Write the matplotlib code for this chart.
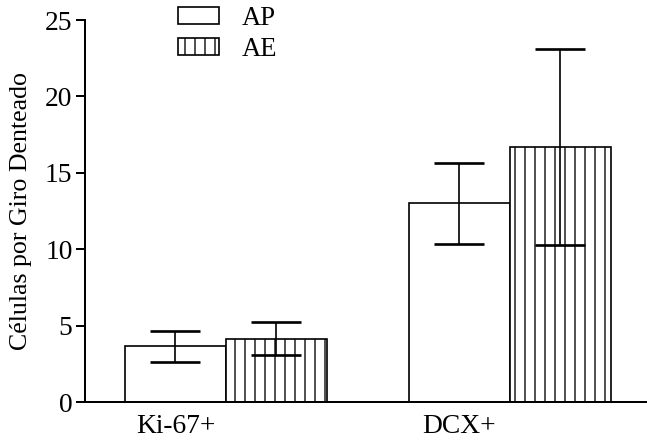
import matplotlib
matplotlib.use("Agg")
import matplotlib.pyplot as plt
from matplotlib.patches import Patch

plt.rcParams["font.family"] = ["Liberation Serif", "DejaVu Serif"]
plt.rcParams["hatch.linewidth"] = 0.8

# dados (media e erro padrao)
grupos = ["Ki-67+", "DCX+"]
ap_media = [3.65, 13.0]
ap_erro = [1.0, 2.65]
ae_media = [4.15, 16.7]
ae_erro = [1.1, 6.4]
pos_ap = [0.0, 2.81]
pos_ae = [p + 1.0 for p in pos_ap]

DPI = 120
fig = plt.figure(figsize=(647 / DPI, 442 / DPI), dpi=DPI)
ax = fig.add_axes([85 / 647, 1 - 402 / 442, 1 - 85 / 647, (402 - 20) / 442])

ax.bar(pos_ap, ap_media, width=1.0, color="white", edgecolor="black", linewidth=1.0, zorder=2)
ax.bar(pos_ae, ae_media, width=1.0, color="white", edgecolor="black", linewidth=1.0,
       hatch="||", zorder=2)

for pos, med, err in [(pos_ap, ap_media, ap_erro), (pos_ae, ae_media, ae_erro)]:
    ax.errorbar(pos, med, yerr=err, fmt="none", ecolor="black", elinewidth=1.0,
                capsize=15, capthick=1.6, zorder=3)

ax.set_xlim(-0.896, 4.67)
ax.set_ylim(0, 25)
ax.set_yticks([0, 5, 10, 15, 20, 25])
ax.set_xticks(pos_ap)
ax.set_xticklabels(grupos)
ax.tick_params(axis="x", length=0, labelsize=16.5, pad=7)
ax.tick_params(axis="y", length=5.5, width=1.2, labelsize=16.5, pad=2)
ax.set_ylabel("Células por Giro Denteado", fontsize=15.5)
ax.yaxis.set_label_coords(-0.095, 0.5)

ax.spines["top"].set_visible(False)
ax.spines["right"].set_visible(False)
ax.spines["left"].set_linewidth(1.2)
ax.spines["bottom"].set_linewidth(1.2)

handles = [Patch(facecolor="white", edgecolor="black", linewidth=1.0),
           Patch(facecolor="white", edgecolor="black", linewidth=1.0, hatch="||")]
fig.legend(handles, ["AP", "AE"], loc="upper left", bbox_to_anchor=(154 / 647, 1.04),
           frameon=False, fontsize=16, handlelength=1.55, handleheight=0.6,
           handletextpad=0.85, labelspacing=0.2)

fig.savefig("out.png", dpi=DPI)
